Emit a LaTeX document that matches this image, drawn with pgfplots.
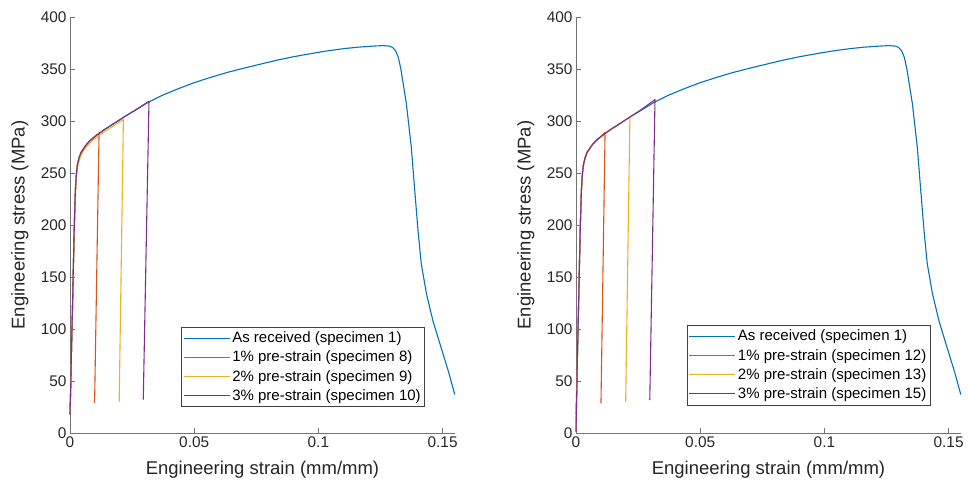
\documentclass[border=0pt]{standalone}
\usepackage{fontspec}
\setmainfont{Liberation Sans}
\usepackage{pgfplots}
\usepackage{pgfplotstable}
\pgfplotsset{compat=1.18}
\definecolor{mblue}{rgb}{0,0.447,0.741}
\definecolor{morange}{rgb}{0.850,0.325,0.098}
\definecolor{myellow}{rgb}{0.929,0.694,0.125}
\definecolor{mpurple}{rgb}{0.494,0.184,0.556}

\pgfplotstableread{
x y
0 18
0.0003 45
0.0006 80
0.001 120
0.0014 165
0.0018 205
0.0022 235
0.0026 250
0.003 258
0.0037 265
0.0045 270
0.0055 273.5
0.0065 277
0.008 281
0.01 285
0.0117 288
0.014 292
0.017 296.5
0.0215 303.5
0.026 310
0.0315 318
0.037 324.5
0.043 330.5
0.0496 336.5
0.056 341.5
0.063 346.5
0.07 350.8
0.0764 354.5
0.083 358.3
0.09 361.8
0.097 364.8
0.1033 367.3
0.11 369.5
0.116 371
0.122 372
0.126 372.5
0.1287 372
0.1300 370.5
0.1312 367
0.1322 361
0.1332 350
0.1354 317
0.1374 275
0.1388 233
0.1401 195
0.1414 163
0.1435 134
0.1461 108
0.148 93
0.1502 76
0.1525 58
0.1549 37
}\blue

\pgfplotstableread{
x y
0 18
0.0003 45
0.0006 80
0.001 120
0.0014 165
0.0018 205
0.0022 235
0.0026 250
0.003 258
0.0037 265
0.0045 270
0.0055 273.5
0.0065 277
0.008 281
0.01 285
0.0117 288.5
0.0099 28.8
}\oneL

\pgfplotstableread{
x y
0 18
0.0003 44
0.0006 78
0.001 117
0.0014 160
0.0018 200
0.0022 230
0.0026 246
0.003 255
0.0037 262
0.0045 267.5
0.0055 271.5
0.0065 275
0.008 279
0.01 283
0.0117 286
0.014 290
0.017 294.5
0.0215 301.5
0.0198 30
}\twoL

\pgfplotstableread{
x y
0 18
0.0003 45
0.0006 80
0.001 120
0.0014 165
0.0018 205
0.0022 235
0.0026 250
0.003 258
0.0037 265
0.0045 270
0.0055 273.5
0.0065 277
0.008 281
0.01 285
0.0117 288
0.014 292
0.017 296.5
0.0215 303.5
0.026 310
0.0318 319
0.0295 32
}\threeL

\pgfplotstableread{
x y
0 3
0.0003 40
0.0006 78
0.001 120
0.0014 165
0.0018 205
0.0022 235
0.0026 250
0.003 258
0.0037 265
0.0045 270
0.0055 273.5
0.0065 277
0.008 281
0.01 285
0.0117 289
0.01005 28.5
}\oneR

\pgfplotstableread{
x y
0 3
0.0003 40
0.0006 78
0.001 119
0.0014 163
0.0018 203
0.0022 233
0.0026 249
0.003 257
0.0037 264
0.0045 269.5
0.0055 273
0.0065 276.5
0.008 280.5
0.01 284.5
0.0117 287.5
0.014 291.5
0.017 296
0.0217 304
0.0200 30
}\twoR

\pgfplotstableread{
x y
0 1
0.0003 38
0.0006 76
0.001 118
0.0014 163
0.0018 204
0.0022 235
0.0026 250
0.003 258
0.0037 265
0.0045 270
0.0055 273.5
0.0065 277
0.008 281
0.01 285
0.0117 288
0.014 292
0.017 296.5
0.0215 303.5
0.026 310.5
0.0318 320.5
0.0297 31.6
}\threeR

\pgfplotsset{
  myax/.style={
    scale only axis, width=385pt, height=416pt,
    xmin=0, xmax=0.155, ymin=0, ymax=400,
    axis lines*=left,
    axis line style={-, draw=black!55, line width=0.8pt},
    tick align=inside, major tick length=5pt,
    tick style={draw=black!55, line width=0.8pt},
    xtick={0,0.05,0.1,0.15}, xticklabels={0,0.05,0.1,0.15},
    ytick={0,50,100,150,200,250,300,350,400},
    scaled x ticks=false,
    /pgf/number format/assume math mode=true,
    ticklabel style={font=\fontsize{15.4}{18}\selectfont, text=black!85},
    every axis x label/.style={at={(axis description cs:0.5,-0.089)}, anchor=center,
      font=\fontsize{18.5}{21}\selectfont, text=black!85},
    every axis y label/.style={at={(axis description cs:-0.13,0.5)}, rotate=90, anchor=center,
      font=\fontsize{18.5}{21}\selectfont, text=black!85},
    xlabel={Engineering strain (mm/mm)},
    ylabel={Engineering stress (MPa)},
    legend cell align=left,
    legend image code/.code={\draw[#1] (0pt,0pt) -- (46pt,0pt);},
    legend style={draw=black!75, line width=0.5pt, fill=white,
      font=\fontsize{15}{16}\selectfont, inner xsep=2pt, inner ysep=3pt,
      row sep=2.8pt},
    every axis plot/.append style={line width=1.1pt, line join=round},
    clip=false,
  }
}

\begin{document}
\begin{tikzpicture}[x=1pt,y=1pt]
\path[use as bounding box] (0,0) rectangle (968,484);
\begin{axis}[myax, at={(70pt,51pt)}, anchor=south west,
  legend style={at={(0.922,0.0625)}, anchor=south east}]
\addplot[mblue] table[x=x,y=y] {\blue};
\addplot[morange] table[x=x,y=y] {\oneL};
\addplot[myellow] table[x=x,y=y] {\twoL};
\addplot[mpurple] table[x=x,y=y] {\threeL};
\legend{As received (specimen 1),1\% pre-strain (specimen 8),2\% pre-strain (specimen 9),3\% pre-strain (specimen 10)}
\end{axis}
\begin{axis}[myax, at={(576pt,51pt)}, anchor=south west,
  legend style={at={(0.921,0.067)}, anchor=south east}]
\addplot[mblue] table[x=x,y=y] {\blue};
\addplot[morange] table[x=x,y=y] {\oneR};
\addplot[myellow] table[x=x,y=y] {\twoR};
\addplot[mpurple] table[x=x,y=y] {\threeR};
\legend{As received (specimen 1),1\% pre-strain (specimen 12),2\% pre-strain (specimen 13),3\% pre-strain (specimen 15)}
\end{axis}
\end{tikzpicture}
\end{document}
